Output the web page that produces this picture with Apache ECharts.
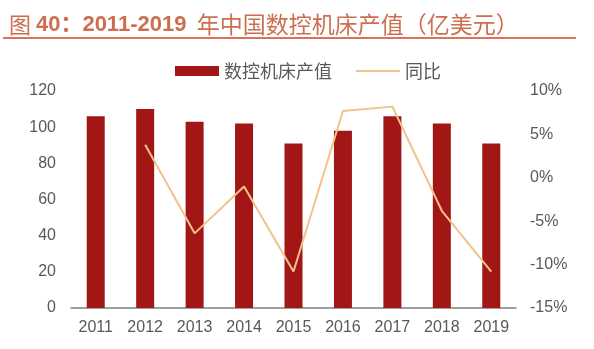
<!DOCTYPE html>
<html>
<head>
<meta charset="utf-8">
<script src="https://cdn.jsdelivr.net/npm/echarts@6/dist/echarts.min.js"></script>
<style>
  html, body { margin: 0; padding: 0; background: #fff; }
  #chart { width: 594px; height: 349px; }
</style>
</head>
<body>
<div id="chart"></div>
<script>
// Annual output value of CNC machine tools in China (100M USD) and YoY change (%)
const years = ['2011', '2012', '2013', '2014', '2015', '2016', '2017', '2018', '2019'];
const outputValue = [106, 110, 103, 102, 91, 98, 106, 102, 91];
const yoyGrowth = [null, 3.8, -6.4, -1.0, -10.8, 7.7, 8.2, -3.8, -10.8];
const leftTicks = [0, 20, 40, 60, 80, 100, 120];
const rightTicks = [-15, -10, -5, 0, 5, 10];

const barName = '数控机床产值';
const lineName = '同比';

const chart = echarts.init(document.getElementById('chart'), null, { renderer: 'canvas' });
const labelColor = '#595959';
const titleColor = '#cc6f4e';
const fontFam = '"Liberation Sans", Arial, "Noto Sans CJK SC", sans-serif';
const cjkFam = '"Noto Sans CJK SC", sans-serif';

chart.setOption({
  animation: false,
  backgroundColor: '#fff',
  title: {
    text: '{r|图 }{b|40：}{b|2011-2019}{c|  年中国数控机床产值（亿美元）}',
    left: 4,
    top: 8,
    textStyle: {
      rich: {
        r: { color: titleColor, fontSize: 22, fontFamily: cjkFam, fontWeight: 'normal' },
        b: { color: titleColor, fontSize: 22, fontFamily: fontFam, fontWeight: 'bold' },
        c: { color: titleColor, fontSize: 23, fontFamily: cjkFam, fontWeight: 'normal' }
      }
    }
  },
  graphic: [{
    type: 'line',
    shape: { x1: 3, y1: 38, x2: 576, y2: 38 },
    style: { stroke: '#d9735a', lineWidth: 2 }
  }],
  legend: {
    top: 57,
    left: 170,
    itemGap: 23,
    itemWidth: 44,
    itemHeight: 10,
    textStyle: { color: labelColor, fontSize: 18, fontFamily: cjkFam },
    data: [
      { name: barName, icon: 'rect' },
      { name: lineName, itemStyle: { opacity: 0 } }
    ]
  },
  grid: { left: 71, right: 78, top: 91, bottom: 41 },
  xAxis: {
    type: 'category',
    data: years,
    axisLine: { lineStyle: { color: '#7f7f7f', width: 1.5 } },
    axisTick: { inside: true, length: 5, lineStyle: { color: '#7f7f7f' } },
    axisLabel: { color: labelColor, fontSize: 16, margin: 12, fontFamily: fontFam }
  },
  yAxis: [
    {
      type: 'value',
      min: leftTicks[0],
      max: leftTicks[leftTicks.length - 1],
      interval: 20,
      splitLine: { show: false },
      axisLine: { show: false },
      axisTick: { show: false },
      axisLabel: { color: labelColor, fontSize: 16, margin: 15, fontFamily: fontFam }
    },
    {
      type: 'value',
      min: rightTicks[0],
      max: rightTicks[rightTicks.length - 1],
      interval: 5,
      splitLine: { show: false },
      axisLine: { show: false },
      axisTick: { show: false },
      axisLabel: { color: labelColor, fontSize: 16, margin: 14, formatter: '{value}%', fontFamily: fontFam }
    }
  ],
  series: [
    {
      name: barName,
      type: 'bar',
      data: outputValue,
      barWidth: 18,
      itemStyle: { color: '#a31616' }
    },
    {
      name: lineName,
      type: 'line',
      yAxisIndex: 1,
      data: yoyGrowth,
      symbol: 'none',
      connectNulls: false,
      lineStyle: { color: '#f2c28c', width: 2 },
      itemStyle: { color: '#f2c28c' }
    }
  ]
});
</script>
</body>
</html>
